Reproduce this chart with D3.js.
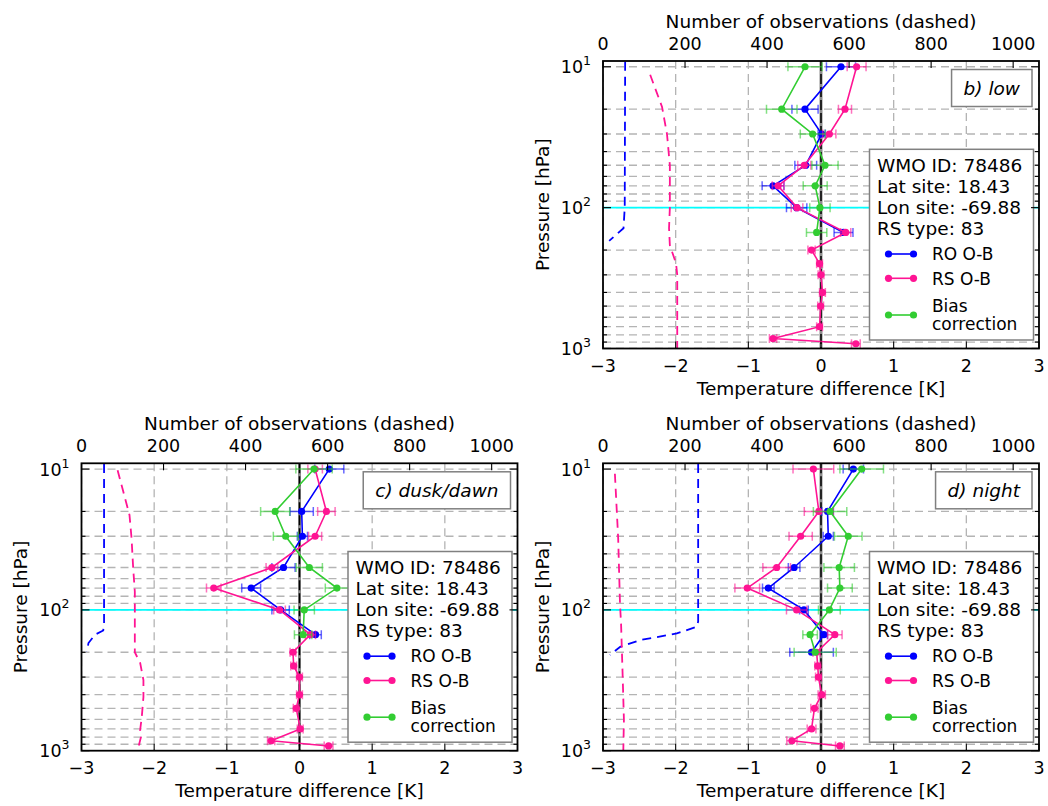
<!DOCTYPE html>
<html><head><meta charset="utf-8">
<script src="https://cdn.jsdelivr.net/npm/d3@7"></script>
<style>body{margin:0;background:#fff} svg{display:block} text{font-family:"DejaVu Sans",sans-serif;fill:#000}</style>
</head><body><svg id="c" width="1048" height="806"></svg>
<script>
// ---------- data ----------
const levels = [10,20,30,50,70,100,150,200,250,300,400,500,700,850,925];
const tempTicks = [-3,-2,-1,0,1,2,3];
const obsTicks = [0,200,400,600,800,1000];
const infoLines = ["WMO ID: 78486","Lat site: 18.43","Lon site: -69.88","RS type: 83"];
const seriesNames = ["RO O-B","RS O-B","Bias correction"];

// b) low
const lowRO = [0.275,-0.22,0.01,-0.21,-0.66,-0.335,0.31];
const lowROerr = [0.2,0.18,0.05,0.15,0.15,0.14,0.13];
const lowRS = [0.49,0.33,0.115,-0.23,-0.59,-0.33,0.34,-0.13,-0.02,0.0,0.02,-0.005,-0.02,-0.66,0.48];
const lowRSerr = [0.13,0.09,0.09,0.09,0.08,0.08,0.07,0.05,0.04,0.04,0.04,0.04,0.04,0.05,0.06];
const lowBC = [-0.22,-0.54,-0.115,0.055,-0.08,-0.015,-0.06];
const lowBCerr = [0.235,0.21,0.17,0.18,0.165,0.14,0.14];
const lowROcountP = [9.2,100,140,172];
const lowROcount = [54,53,50,15];
const lowRScountP = [11.4,19.3,30,50,100,140,185,248,300,1000];
const lowRScount = [115,144,156,163,163,161,163,178,181,181];

// c) dusk/dawn
const duskRO = [0.41,0.03,0.04,-0.22,-0.665,-0.26,0.22];
const duskROerr = [0.2,0.16,0.07,0.16,0.13,0.12,0.08];
const duskRS = [0.215,0.37,0.215,-0.38,-1.18,-0.275,0.15,-0.09,-0.08,0.0,0.0,-0.045,0.01,-0.39,0.40];
const duskRSerr = [0.1,0.12,0.09,0.08,0.1,0.08,0.07,0.04,0.04,0.04,0.04,0.04,0.04,0.05,0.06];
const duskBC = [0.2,-0.335,-0.19,0.135,0.515,0.065,0.05];
const duskBCerr = [0.25,0.2,0.17,0.18,0.16,0.14,0.12];
const duskROcountP = [9.2,124,140,150,172,198];
const duskROcount = [55,55,53,33,17,13];
const duskRScountP = [10.2,14.5,21.2,30.9,50.5,74.3,200,238,315,416,574,713,800,937,1000];
const duskRScount = [88,102,117,122,126,130,130,143,151,151,147,143,145,139,136];

// d) night
const nightRO = [0.445,0.09,0.10,-0.37,-0.725,-0.235,0.04,-0.13];
const nightROerr = [0.14,0.08,0.07,0.08,0.08,0.06,0.05,0.3];
const nightRS = [-0.105,-0.03,-0.28,-0.61,-1.015,-0.335,0.19,-0.06,-0.045,-0.035,0.01,-0.09,-0.13,-0.40,0.26];
const nightRSerr = [0.28,0.2,0.16,0.19,0.17,0.14,0.1,0.05,0.04,0.04,0.05,0.05,0.06,0.07,0.06];
const nightBC = [0.56,0.125,0.375,0.25,0.26,0.115,-0.15,-0.08];
const nightBCerr = [0.3,0.23,0.19,0.21,0.17,0.15,0.1,0.29];
const nightROcountP = [9.2,121,132,147,164,183,209];
const nightROcount = [232,232,228,180,90,42,17];
const nightRScountP = [10.8,31,92,124,298,605,1000];
const nightRScount = [29,37,41.5,44,48,51,49.5];

// ---------- layout / style ----------
const C = {ro:"#0000ff", rs:"#ff1493", bc:"#32cd32", grid:"#b4b4b4", cyan:"#00ffff"};
const FS = 18.5, TFS = 17.5;
const panels = [
  {label:"b) low", x0:603, x1:1039, y0:61, y1:348.5,
   ro:lowRO, roE:lowROerr, rs:lowRS, rsE:lowRSerr, bc:lowBC, bcE:lowBCerr,
   roCP:lowROcountP, roC:lowROcount, rsCP:lowRScountP, rsC:lowRScount},
  {label:"c) dusk/dawn", x0:81.5, x1:517.5, y0:463.3, y1:750.7,
   ro:duskRO, roE:duskROerr, rs:duskRS, rsE:duskRSerr, bc:duskBC, bcE:duskBCerr,
   roCP:duskROcountP, roC:duskROcount, rsCP:duskRScountP, rsC:duskRScount},
  {label:"d) night", x0:603, x1:1039, y0:463.3, y1:750.7,
   ro:nightRO, roE:nightROerr, rs:nightRS, rsE:nightRSerr, bc:nightBC, bcE:nightBCerr,
   roCP:nightROcountP, roC:nightROcount, rsCP:nightRScountP, rsC:nightRScount}
];

const svg = d3.select("#c");
svg.append("rect").attr("width",1048).attr("height",806).attr("fill","#fff");

panels.forEach((P,pi)=>{
  const x = d3.scaleLinear().domain([-3,3]).range([P.x0,P.x1]);
  const xo = d3.scaleLinear().domain([0,1063]).range([P.x0,P.x1]);
  const y = d3.scaleLog().domain([9.1,1000]).range([P.y0,P.y1]);
  const g = svg.append("g");
  const cid = "clip"+pi;
  g.append("clipPath").attr("id",cid).append("rect")
    .attr("x",P.x0).attr("y",P.y0).attr("width",P.x1-P.x0).attr("height",P.y1-P.y0);
  const plot = g.append("g").attr("clip-path",`url(#${cid})`);

  // grid
  const yt = y.ticks();
  plot.selectAll(".hg").data(yt).join("line")
    .attr("x1",P.x0).attr("x2",P.x1).attr("y1",d=>y(d)).attr("y2",d=>y(d))
    .attr("stroke",C.grid).attr("stroke-width",1.3).attr("stroke-dasharray","8,5");
  plot.selectAll(".vg").data(tempTicks.filter(d=>d!==0)).join("line")
    .attr("x1",d=>x(d)).attr("x2",d=>x(d)).attr("y1",P.y0).attr("y2",P.y1)
    .attr("stroke",C.grid).attr("stroke-width",1.3).attr("stroke-dasharray","8,5");
  // cyan at 100 hPa
  plot.append("line").attr("x1",P.x0).attr("x2",P.x1).attr("y1",y(100)).attr("y2",y(100))
    .attr("stroke",C.cyan).attr("stroke-width",1.6);
  // zero line
  plot.append("line").attr("x1",x(0)).attr("x2",x(0)).attr("y1",P.y0).attr("y2",P.y1)
    .attr("stroke","#8c8c8c").attr("stroke-width",3);
  plot.append("line").attr("x1",x(0)).attr("x2",x(0)).attr("y1",P.y0).attr("y2",P.y1)
    .attr("stroke","#000").attr("stroke-width",1.5).attr("stroke-dasharray","10,3");

  // series
  const series = [
    {v:P.ro, e:P.roE, c:C.ro},
    {v:P.rs, e:P.rsE, c:C.rs},
    {v:P.bc, e:P.bcE, c:C.bc}
  ];
  series.forEach(s=>{
    const pts = s.v.map((v,i)=>({t:v, p:levels[i], e:s.e[i]}));
    const eg = plot.append("g").attr("stroke",s.c).attr("stroke-width",1.5).attr("stroke-opacity",0.6);
    pts.forEach(d=>{
      const yy=y(d.p), xl=x(d.t-d.e), xr=x(d.t+d.e);
      eg.append("line").attr("x1",xl).attr("x2",xr).attr("y1",yy).attr("y2",yy);
      eg.append("line").attr("x1",xl).attr("x2",xl).attr("y1",yy-4.5).attr("y2",yy+4.5);
      eg.append("line").attr("x1",xr).attr("x2",xr).attr("y1",yy-4.5).attr("y2",yy+4.5);
    });
    plot.append("path").datum(pts)
      .attr("d",d3.line().x(d=>x(d.t)).y(d=>y(d.p)))
      .attr("fill","none").attr("stroke",s.c).attr("stroke-width",1.6);
    plot.selectAll(null).data(pts).join("circle")
      .attr("cx",d=>x(d.t)).attr("cy",d=>y(d.p)).attr("r",3.6).attr("fill",s.c);
  });

  // label box (top right)
  const lt = g.append("text").attr("font-size",FS).attr("font-style","italic").text(P.label);
  const lw = lt.node().getComputedTextLength();
  const lbR = P.x1-7, lbT = P.y0+8.5, lbH = 37, lbW = lw+24;
  g.insert("rect","text:last-of-type").attr("x",lbR-lbW).attr("y",lbT).attr("width",lbW).attr("height",lbH)
    .attr("fill","#fff").attr("stroke","#808080").attr("stroke-width",1.5);
  lt.attr("x",lbR-lbW+12).attr("y",lbT+lbH/2+6.5);
  lt.raise();

  // info / legend box
  const bw=164, bh=190.7, bx=P.x1-5.5-bw, by=P.y1-8.5-bh;
  const lg = g.append("g");
  lg.append("rect").attr("x",bx).attr("y",by).attr("width",bw).attr("height",bh)
    .attr("fill","#fff").attr("stroke","#808080").attr("stroke-width",1.5);
  infoLines.forEach((t,i)=>{
    lg.append("text").attr("x",bx+7.4).attr("y",by+22.4+i*21.1).attr("font-size",FS).text(t);
  });
  const entY=[104.7,129,165.7], entTxt=[[ "RO O-B"],["RS O-B"],["Bias","correction"]];
  const entBase=[[110.7],[135.7],[162.4,180.7]];
  [C.ro,C.rs,C.bc].forEach((c,i)=>{
    const yy=by+entY[i];
    lg.append("line").attr("x1",bx+19).attr("x2",bx+44).attr("y1",yy).attr("y2",yy)
      .attr("stroke",c).attr("stroke-width",1.6);
    [bx+19,bx+44].forEach(cx=>lg.append("circle").attr("cx",cx).attr("cy",yy).attr("r",3.6).attr("fill",c));
    entTxt[i].forEach((t,j)=>{
      lg.append("text").attr("x",bx+62.4).attr("y",by+entBase[i][j]).attr("font-size",17).text(t);
    });
  });

  // observation counts (twin axis, dashed)
  [[P.roCP,P.roC,C.ro],[P.rsCP,P.rsC,C.rs]].forEach(([pp,cc,col])=>{
    const pts = pp.map((p,i)=>({p, n:cc[i]}));
    plot.append("path").datum(pts)
      .attr("d",d3.line().x(d=>xo(d.n)).y(d=>y(d.p)))
      .attr("fill","none").attr("stroke",col).attr("stroke-width",1.8).attr("stroke-dasharray","9,6");
  });

  // frame
  g.append("rect").attr("x",P.x0).attr("y",P.y0).attr("width",P.x1-P.x0).attr("height",P.y1-P.y0)
    .attr("fill","none").attr("stroke","#000").attr("stroke-width",1.8);
  // ticks
  const tk = g.append("g").attr("stroke","#000").attr("stroke-width",1.1);
  yt.forEach(d=>{
    const major = [10,100,1000].includes(d);
    const L = major?8:4;
    tk.append("line").attr("x1",P.x0).attr("x2",P.x0+L).attr("y1",y(d)).attr("y2",y(d));
    tk.append("line").attr("x1",P.x1).attr("x2",P.x1-L).attr("y1",y(d)).attr("y2",y(d));
  });
  tempTicks.forEach(d=>{
    tk.append("line").attr("x1",x(d)).attr("x2",x(d)).attr("y1",P.y1).attr("y2",P.y1-7);
  });
  obsTicks.forEach(d=>{
    tk.append("line").attr("x1",xo(d)).attr("x2",xo(d)).attr("y1",P.y0).attr("y2",P.y0+7);
  });

  // tick labels
  tempTicks.forEach(d=>{
    g.append("text").attr("x",x(d)).attr("y",P.y1+23).attr("text-anchor","middle")
      .attr("font-size",TFS).text(d<0?"\u2212"+Math.abs(d):String(d));
  });
  obsTicks.forEach(d=>{
    g.append("text").attr("x",xo(d)).attr("y",P.y0-11).attr("text-anchor","middle")
      .attr("font-size",TFS).text(String(d));
  });
  [10,100,1000].forEach((d,i)=>{
    const t = g.append("text").attr("x",P.x0-12).attr("y",y(d)+6.5).attr("text-anchor","end").attr("font-size",TFS);
    t.append("tspan").text("10");
    t.append("tspan").attr("dy",-8).attr("font-size",12.5).text(String(i+1));
  });
  // axis labels
  const cx=(P.x0+P.x1)/2, cy=(P.y0+P.y1)/2;
  g.append("text").attr("x",cx).attr("y",P.y0-33).attr("text-anchor","middle").attr("font-size",FS)
    .text("Number of observations (dashed)");
  g.append("text").attr("x",cx).attr("y",P.y1+46).attr("text-anchor","middle").attr("font-size",FS)
    .text("Temperature difference [K]");
  g.append("text").attr("transform",`translate(${P.x0-54.5},${cy}) rotate(-90)`)
    .attr("text-anchor","middle").attr("font-size",FS).text("Pressure [hPa]");
});
</script></body></html>
